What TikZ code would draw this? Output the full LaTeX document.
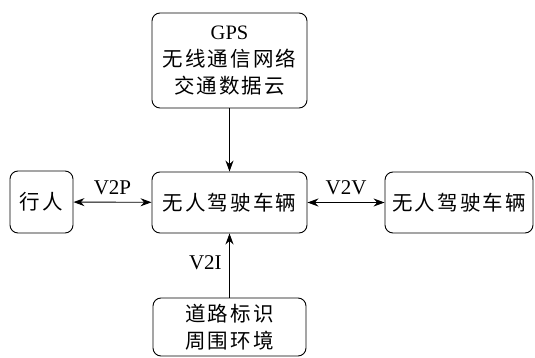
\documentclass[tikz,border=0pt]{standalone}
\usepackage{fontspec}
\setmainfont{Liberation Serif}
\newfontfamily\cjk{Noto Sans CJK SC}[LetterSpace=10]
\usetikzlibrary{arrows.meta}
\begin{document}
\begin{tikzpicture}[x=1pt,y=1pt,
  box/.style={draw, line width=0.9pt, rounded corners=8pt, align=center, inner sep=0pt, font=\fontsize{20.5}{27}\selectfont},
  link/.style={line width=0.9pt, -{Stealth[length=11pt,width=8pt]}},
  both/.style={line width=0.9pt, {Stealth[length=11pt,width=8pt]}-{Stealth[length=11pt,width=8pt]}},
  lab/.style={font=\fontsize{21}{24}\selectfont}]
\useasboundingbox (0,0) rectangle (535,357);
\node[box, minimum width=155pt, minimum height=95pt] (gps) at (229.5,296.5) {GPS\\{\cjk 无线通信网络}\\{\cjk 交通数据云}};
\node[box, minimum width=155pt, minimum height=61pt] (car) at (229.5,154.5) {\cjk 无人驾驶车辆};
\node[box, minimum width=63pt, minimum height=62pt] (ped) at (41.5,155) {\cjk 行人};
\node[box, minimum width=148pt, minimum height=61pt] (car2) at (459,154.5) {\cjk 无人驾驶车辆};
\node[box, minimum width=153pt, minimum height=58pt] (road) at (229.5,30) {{\cjk 道路标识}\\{\cjk 周围环境}};
\draw[link] (gps) -- (car);
\draw[link] (road) -- node[lab, left=4pt, pos=0.55] (v2i) {V2I} (car);
\draw[both] (ped) -- node[lab, above=4pt] (v2p) {V2P} (car);
\draw[both] (car) -- node[lab, above=4pt] (v2v) {V2V} (car2);
\end{tikzpicture}
\end{document}
